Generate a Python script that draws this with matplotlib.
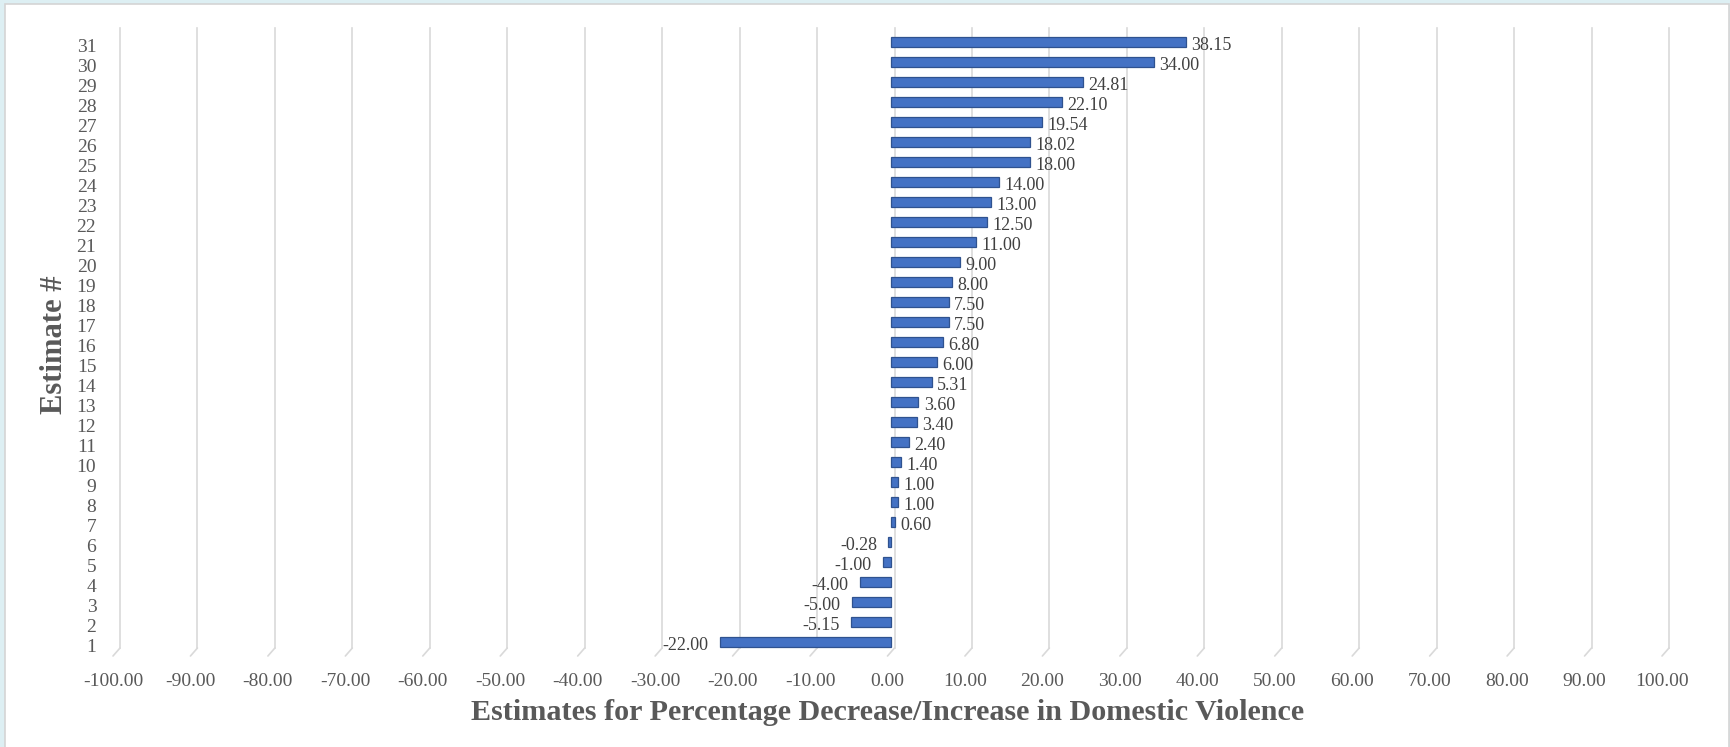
import matplotlib.pyplot as plt
import matplotlib.transforms as mtransforms
from matplotlib.patches import Rectangle

# Estimates of % change in domestic violence, sorted
estimates = list(range(1, 32))
values = [-22.00, -5.15, -5.00, -4.00, -1.00, -0.28, 0.60, 1.00, 1.00, 1.40,
          2.40, 3.40, 3.60, 5.31, 6.00, 6.80, 7.50, 7.50, 8.00, 9.00,
          11.00, 12.50, 13.00, 14.00, 18.00, 18.02, 19.54, 22.10, 24.81,
          34.00, 38.15]
x_ticks = list(range(-100, 101, 10))

W, H = 1730, 747
txt = '#595959'
plt.rcParams['font.family'] = ['Liberation Serif', 'DejaVu Serif']

fig = plt.figure(figsize=(W / 100, H / 100), dpi=100, facecolor='#DDEFF3')
# white chart panel with thin grey border
fig.patches.append(Rectangle((5 / W, -0.01), (1724) / W, 1.01 - 4 / H,
                             transform=fig.transFigure, facecolor='white',
                             edgecolor='#D4D4D4', linewidth=1.2, zorder=-10))

ax = fig.add_axes([113 / W, 1 - 656 / H, (1662 - 113) / W, (656 - 36) / H])
ax.set_facecolor('none')
ax.set_xlim(-100, 100)
ax.set_ylim(0.5, 31.5)

# gridlines on the back wall (3D look) with a short diagonal to the floor
back = mtransforms.offset_copy(ax.transData, fig, x=7, y=8, units='dots')
for t in x_ticks:
    ax.plot([t, t], [0.5, 31.5], color='#D9D9D9', lw=1.2,
            transform=back, zorder=1, clip_on=False)
    ax.annotate('', xy=(t, 0.5), xytext=(7, 8), textcoords='offset pixels',
                xycoords='data',
                arrowprops=dict(arrowstyle='-', color='#D9D9D9', lw=1.2,
                                shrinkA=0, shrinkB=0))

mid = mtransforms.offset_copy(ax.transData, fig, x=3, y=4, units='dots')
bars = ax.barh(estimates, values, height=0.47, color='#4472C4',
               edgecolor='#2F528F', linewidth=0.9, transform=mid, zorder=3)
ax.bar_label(bars, labels=[f'{v:.2f}' for v in values], padding=6,
             fontsize=13, color='#404040')

ax.set_xticks(x_ticks)
ax.set_xticklabels([f'{t:.2f}' for t in x_ticks])
ax.set_yticks(estimates)
ax.tick_params(axis='both', length=0, labelsize=14, labelcolor=txt)
ax.tick_params(axis='x', pad=12)
ax.tick_params(axis='y', pad=12)
for s in ax.spines.values():
    s.set_visible(False)

fig.text(888 / W, 1 - 712 / H,
         'Estimates for Percentage Decrease/Increase in Domestic Violence',
         ha='center', va='center', fontsize=21.7, fontweight='bold', color=txt)
fig.text(55 / W, 1 - 345 / H, 'Estimate #', ha='center', va='center',
         rotation=90, fontsize=22, fontweight='bold', color=txt)

fig.savefig('out.png', dpi=100, facecolor=fig.get_facecolor())
